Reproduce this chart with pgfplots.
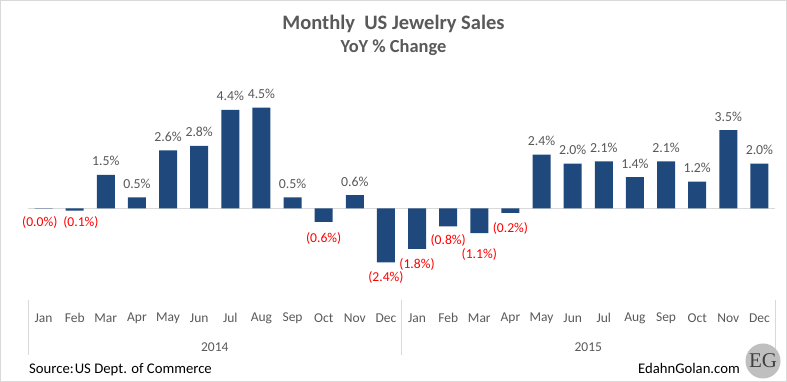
\documentclass[border=0pt]{standalone}
\usepackage{pgfplots}
\pgfplotsset{compat=1.18}
\usepackage{fontspec}
\setmainfont{Carlito}
\newfontfamily\egfont{Liberation Serif}
\definecolor{barblue}{RGB}{31,73,125}
\definecolor{txtgray}{RGB}{89,89,89}
\definecolor{framegray}{RGB}{217,217,217}
\definecolor{negred}{RGB}{255,0,0}
\newcommand\fs[1]{\fontsize{#1}{#1}\selectfont}
\pgfplotsset{/pgf/number format/assume math mode=true}
\begin{document}
\begin{tikzpicture}[x=1pt,y=1pt]
\useasboundingbox (0,0) rectangle (787,382);
\fill[white] (0,0) rectangle (787,382);
\draw[framegray, line width=1pt] (0.5,0.5) rectangle (786.5,381.5);
% titles
\node[anchor=base, text=txtgray, font=\fs{20.5}\bfseries] at (393.5,352) {Monthly\ \ US Jewelry Sales};
\node[anchor=base, text=txtgray, font=\fs{18.4}\bfseries] at (393.5,329) {YoY \% Change};
\begin{axis}[
  at={(28pt,82pt)}, anchor=south west, scale only axis,
  width=747pt, height=203.5pt,
  xmin=-0.5, xmax=23.5, ymin=-4.085, ymax=5,
  axis line style={draw=none}, major tick length=0pt,
  ytick=\empty,
  xtick={0,...,23},
  xticklabels={Jan,Feb,Mar,Apr,May,Jun,Jul,Aug,Sep,Oct,Nov,Dec,Jan,Feb,Mar,Apr,May,Jun,Jul,Aug,Sep,Oct,Nov,Dec},
  xticklabel style={anchor=center, yshift=-18pt, font=\fs{13.5}, text=txtgray},
  clip=false,
]
\addplot[framegray, line width=1pt, forget plot] coordinates {(-0.5,0) (23.5,0)};
\addplot[ybar, bar width=18pt, fill=barblue, draw=none, bar shift=0pt] coordinates {
(0,-0.004) (1,-0.1) (2,1.5) (3,0.5) (4,2.6) (5,2.8) (6,4.4) (7,4.5) (8,0.5) (9,-0.6) (10,0.6) (11,-2.4)
(12,-1.8) (13,-0.8) (14,-1.1) (15,-0.2) (16,2.4) (17,2.0) (18,2.1) (19,1.4) (20,2.1) (21,1.2) (22,3.5) (23,2.0)};
% positive labels
\addplot[draw=none, mark=none, point meta=y,
  nodes near coords={\pgfmathprintnumber[fixed,fixed zerofill,precision=1]{\pgfplotspointmeta}\%},
  nodes near coords style={anchor=base, yshift=9pt, inner sep=0pt, font=\fs{13.8}, text=txtgray}]
  coordinates {(2,1.5) (3,0.5) (4,2.6) (5,2.8) (6,4.4) (7,4.5) (8,0.5) (10,0.6)
  (16,2.4) (17,2.0) (18,2.1) (19,1.4) (20,2.1) (21,1.2) (22,3.5) (23,2.0)};
% negative labels
\addplot[draw=none, mark=none, point meta=\thisrow{v},
  nodes near coords={(\pgfmathprintnumber[fixed,fixed zerofill,precision=1]{\pgfplotspointmeta}\%)},
  nodes near coords style={anchor=mid, inner sep=0pt, font=\fs{13.6}, text=negred}]
  table[x=x, y=y] {
x y v
-0.12 -0.69 0.0
1.2 -0.69 0.1
9 -1.41 0.6
11 -3.15 2.4
12 -2.57 1.8
13 -1.50 0.8
14 -2.12 1.1
15 -0.96 0.2
};
\end{axis}
% category separators and years
\draw[framegray, line width=1pt] (28,82) -- (28,27);
\draw[framegray, line width=1pt] (401.5,82) -- (401.5,27);
\draw[framegray, line width=1pt] (775,82) -- (775,27);
\node[anchor=center, text=txtgray, font=\fs{13.5}] at (214.75,35) {2014};
\node[anchor=center, text=txtgray, font=\fs{13.5}] at (588.25,35) {2015};
% footer
\node[anchor=base west, inner sep=0pt, font=\fs{14.7}] at (29,8) {Source:\kern1pt US Dept. of Commerce};
\node[anchor=base east, inner sep=0pt, font=\fs{14.7}] at (740,8) {EdahnGolan.com};
\fill[black!25] (763,21) circle (17.5);
\node[text=black!75, font=\egfont\fs{21}] at (763,21) {EG};
\end{tikzpicture}
\end{document}
